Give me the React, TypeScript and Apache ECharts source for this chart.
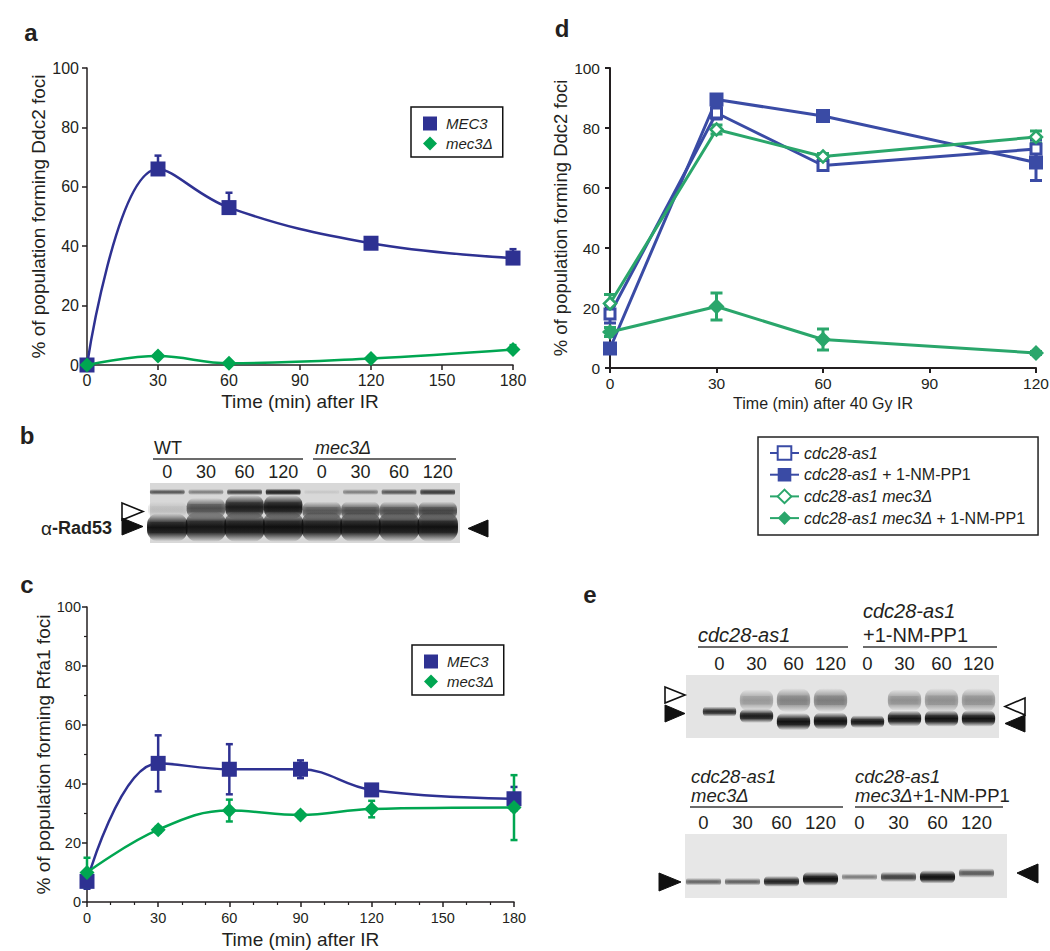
import React, { useEffect, useRef } from 'react';
import * as echarts from 'echarts';

const FONT = '"Liberation Sans", Arial, Helvetica, sans-serif';
const INK = '#231f20';
const BLUE = '#2e3192';
const GREEN = '#00a651';
const D_BLUE = '#3a4ba5';
const D_GREEN = '#2aa66b';

// ---------- Panel a : Ddc2 foci ----------
const timesA = [0, 30, 60, 120, 180];
const mec3A = [0, 66, 53, 41, 36];
const mec3ErrA = [0, 4.5, 5, 2, 3];
const mec3dA = [0, 3, 0.6, 2.2, 5.2];
const mec3dErrA = [0, 1, 0.5, 0.8, 1.5];

// ---------- Panel c : Rfa1 foci ----------
const timesC = [0, 30, 60, 90, 120, 180];
const mec3C = [7, 47, 45, 45, 38, 35];
const mec3ErrC = [2.5, 9.5, 8.5, 3, 1.5, 4];
const mec3dC = [10, 24.5, 31, 29.5, 31.5, 32];
const mec3dErrC = [5, 1, 3.7, 1, 2.8, 11];

// ---------- Panel d : Ddc2 foci after 40 Gy ----------
const timesD = [0, 30, 60, 120];
const asD = [18, 85, 67.5, 73];
const asErrD = [3, 2, 1.5, 3];
const asNmD = [6.5, 89.5, 84, 68.5];
const asNmErrD = [1, 1.5, 1.5, 6];
const asMecD = [21.5, 79.5, 70.5, 77];
const asMecErrD = [3, 1.5, 1, 2];
const asMecNmD = [12, 20.5, 9.5, 5];
const asMecNmErrD = [1.5, 4.5, 3.5, 0.5];
const dNames = ['cdc28-as1', 'cdc28-as1 + 1-NM-PP1', 'cdc28-as1 mec3Δ', 'cdc28-as1 mec3Δ + 1-NM-PP1'];

// ---------- Blots ----------
const blotLanes = ['0', '30', '60', '120', '0', '30', '60', '120'];
// panel b (relative migration 0-100, band height, intensity)
const bTopY = [85, 85, 85, 85, 85, 85, 85, 85];
const bTopH = [10, 10, 11, 12, 9, 10, 11, 12];
const bTopI = [0.55, 0.35, 0.65, 0.85, 0.06, 0.35, 0.55, 0.7];
const bShiftY = [56, 58, 60, 60, 54, 54, 54, 54];
const bShiftH = [26, 34, 40, 40, 30, 30, 30, 30];
const bShiftI = [0.1, 0.6, 0.9, 0.95, 0.55, 0.6, 0.6, 0.65];
const bMainY = [26, 27, 27, 27, 27, 27, 27, 27];
const bMainH = [46, 50, 50, 50, 50, 50, 50, 50];
const bMainI = [0.97, 0.95, 0.98, 0.99, 0.96, 0.97, 0.97, 0.98];
// panel e top
const eTopMainY = [42, 35, 26, 27, 26, 31, 31, 31];
const eTopMainH = [16, 22, 27, 27, 20, 25, 26, 26];
const eTopMainI = [0.8, 0.9, 0.97, 0.97, 0.92, 0.94, 0.96, 0.96];
const eTopShiftY = [60, 60, 60, 60, 60, 60, 60, 60];
const eTopShiftH = [34, 34, 38, 38, 34, 34, 38, 38];
const eTopShiftI = [0, 0.28, 0.38, 0.4, 0, 0.32, 0.32, 0.32];
// panel e bottom
const eBotY = [25.5, 25.5, 26, 30, 33, 33, 33, 39];
const eBotH = [12, 12, 17, 22, 11, 16, 21, 15];
const eBotI = [0.5, 0.52, 0.85, 0.98, 0.4, 0.68, 0.97, 0.55];

const pairs = (xs: number[], ys: number[]) => xs.map((x, i) => [x, ys[i]]);

function errorBars(idx: number, xs: number[], vals: number[], errs: number[], color: string, oneSided: boolean, cap: number, lw: number) {
  return {
    type: 'custom',
    xAxisIndex: idx,
    yAxisIndex: idx,
    silent: true,
    z: 1,
    data: xs.map((x, i) => [x, oneSided ? vals[i] : vals[i] - errs[i], vals[i] + errs[i]]),
    encode: { x: 0, y: [1, 2] },
    renderItem: (_p: any, api: any) => {
      const x = api.value(0);
      const lo = api.coord([x, api.value(1)]);
      const hi = api.coord([x, api.value(2)]);
      const st = { stroke: color, lineWidth: lw };
      const children: any[] = [
        { type: 'line', shape: { x1: lo[0], y1: lo[1], x2: hi[0], y2: hi[1] }, style: st },
        { type: 'line', shape: { x1: hi[0] - cap, y1: hi[1], x2: hi[0] + cap, y2: hi[1] }, style: st },
      ];
      if (!oneSided) children.push({ type: 'line', shape: { x1: lo[0] - cap, y1: lo[1], x2: lo[0] + cap, y2: lo[1] }, style: st });
      return { type: 'group', children };
    },
  };
}

function bandSeries(idx: number, ys: number[], hs: number[], ints: number[], wf: number) {
  return {
    type: 'custom',
    xAxisIndex: idx,
    yAxisIndex: idx,
    silent: true,
    data: blotLanes.map((_, i) => [i, ys[i], hs[i], ints[i]]),
    encode: { x: 0, y: 1 },
    renderItem: (_p: any, api: any) => {
      const a = api.value(3);
      if (a <= 0) return null;
      const c = api.coord([api.value(0), api.value(1)]);
      const s = api.size([1, api.value(2)], [api.value(0), api.value(1)]);
      const w = s[0] * wf;
      const h = s[1];
      const col = (k: number) => `rgba(14,14,14,${(a * k).toFixed(3)})`;
      const grad = new echarts.graphic.LinearGradient(0, 0, 0, 1, [
        { offset: 0, color: col(0) },
        { offset: 0.3, color: col(0.75) },
        { offset: 0.5, color: col(1) },
        { offset: 0.7, color: col(0.85) },
        { offset: 1, color: col(0) },
      ]);
      const gradH = new echarts.graphic.LinearGradient(0, 0, 1, 0, [
        { offset: 0, color: col(0) },
        { offset: 0.12, color: col(0.35) },
        { offset: 0.88, color: col(0.35) },
        { offset: 1, color: col(0) },
      ]);
      return {
        type: 'group',
        children: [
          { type: 'rect', shape: { x: c[0] - w / 2, y: c[1] - h / 2, width: w, height: h, r: h / 2.5 }, style: { fill: grad } },
          { type: 'rect', shape: { x: c[0] - w / 2, y: c[1] - h * 0.2, width: w, height: h * 0.4 }, style: { fill: gradH } },
        ],
      };
    },
  };
}

const axisBase = (fontSize: number, margin: number, lw: number) => ({
  axisLine: { show: true, lineStyle: { color: INK, width: lw } },
  axisTick: { show: true, length: 5, lineStyle: { color: INK, width: lw } },
  axisLabel: { fontSize, margin, color: INK, fontFamily: FONT },
  splitLine: { show: false },
  nameLocation: 'middle',
});

const blotX = (idx: number, fontSize: number, margin: number) => ({
  type: 'category',
  gridIndex: idx,
  position: 'top',
  data: blotLanes,
  boundaryGap: true,
  axisLine: { show: false },
  axisTick: { show: false },
  axisLabel: { interval: 0, fontSize, margin, color: INK, fontFamily: FONT },
  splitLine: { show: false },
});
const blotY = (idx: number) => ({ type: 'value', gridIndex: idx, min: 0, max: 100, show: false });

const txt = (text: string, x: number, y: number, o: any = {}) => ({
  type: 'text',
  z: 10,
  style: {
    text, x, y,
    fontFamily: FONT,
    fontSize: o.fontSize || 18,
    fontWeight: o.fontWeight || 'normal',
    fontStyle: o.fontStyle || 'normal',
    fill: INK,
    align: o.align || 'left',
    verticalAlign: 'middle',
    textAlign: o.align || 'left',
    textVerticalAlign: 'middle',
    rich: o.rich,
  },
});
const hline = (x1: number, x2: number, y: number) => ({
  type: 'line', z: 10, shape: { x1, y1: y, x2, y2: y }, style: { stroke: '#3a3a3a', lineWidth: 1.5 },
});
const tri = (pts: number[][], open: boolean) => ({
  type: 'polygon', z: 10, shape: { points: pts },
  style: { fill: open ? '#fff' : '#111', stroke: '#111', lineWidth: open ? 1.6 : 1 },
});
const richI = { i: { fontStyle: 'italic', fontFamily: FONT, fontSize: 20, fill: INK, color: INK } };
const richI2 = { i: { fontStyle: 'italic', fontFamily: FONT, fontSize: 18.5, fill: INK, color: INK } };

function buildOption(): any {
  const legendAC = (left: number, top: number) => ({
    left, top, orient: 'vertical', padding: [9, 10, 6, 12], itemGap: 5, itemWidth: 14, itemHeight: 14,
    borderColor: '#111', borderWidth: 1.5, selectedMode: false,
    data: [{ name: 'MEC3', icon: 'rect' }, { name: 'mec3Δ', icon: 'diamond' }],
    textStyle: { fontFamily: FONT, fontSize: 15, fontStyle: 'italic', color: INK, padding: [0, 0, 0, 4] },
  });

  return {
    animation: false,
    backgroundColor: '#fff',
    grid: [
      { left: 87, top: 68, width: 426, height: 297, outerBoundsMode: 'none' },
      { left: 87, top: 607, width: 427, height: 295, outerBoundsMode: 'none' },
      { left: 610, top: 68, width: 426, height: 300, outerBoundsMode: 'none' },
      { left: 148, top: 483, width: 309, height: 60, outerBoundsMode: 'none' },
      { left: 701, top: 675, width: 296, height: 63, outerBoundsMode: 'none' },
      { left: 684, top: 834, width: 312, height: 64, outerBoundsMode: 'none' },
    ],
    xAxis: [
      { ...axisBase(16, 7, 1.5), type: 'value', gridIndex: 0, min: 0, max: 180, interval: 30,
        name: 'Time (min) after IR', nameGap: 27, nameTextStyle: { fontSize: 19, fontFamily: FONT, color: INK } },
      { ...axisBase(14.5, 8, 1.5), type: 'value', gridIndex: 1, min: 0, max: 180, interval: 30,
        minorTick: { show: true, splitNumber: 3, length: 3, lineStyle: { color: INK, width: 1.2 } },
        name: 'Time (min) after IR', nameGap: 28, nameTextStyle: { fontSize: 19, fontFamily: FONT, color: INK } },
      { ...axisBase(15.5, 7, 2), type: 'value', gridIndex: 2, min: 0, max: 120, interval: 30,
        name: 'Time (min) after 40 Gy IR', nameGap: 27, nameTextStyle: { fontSize: 16, fontFamily: FONT, color: INK } },
      blotX(3, 18, 2),
      blotX(4, 18.5, 2),
      blotX(5, 18.5, 2),
    ],
    yAxis: [
      { ...axisBase(16, 8, 1.5), type: 'value', gridIndex: 0, min: 0, max: 100, interval: 20,
        name: '% of population forming Ddc2 foci', nameGap: 27, nameTextStyle: { fontSize: 19, fontFamily: FONT, color: INK } },
      { ...axisBase(14.5, 6, 1.5), type: 'value', gridIndex: 1, min: 0, max: 100, interval: 20,
        minorTick: { show: true, splitNumber: 2, length: 3, lineStyle: { color: INK, width: 1.2 } },
        name: '% of population forming Rfa1 foci', nameGap: 26, nameTextStyle: { fontSize: 19, fontFamily: FONT, color: INK } },
      { ...axisBase(15.5, 10, 2), type: 'value', gridIndex: 2, min: 0, max: 100, interval: 20,
        name: '% of population forming Ddc2 foci', nameGap: 34, nameTextStyle: { fontSize: 18.5, fontFamily: FONT, color: INK } },
      blotY(3), blotY(4), blotY(5),
    ],
    legend: [
      legendAC(411, 107),
      legendAC(412, 645),
      {
        left: 758, top: 437, orient: 'vertical', padding: [8, 13, 9, 11], itemGap: 5.7, itemWidth: 29, itemHeight: 17,
        borderColor: '#222', borderWidth: 1.5, selectedMode: false,
        data: dNames,
        formatter: (name: string) => {
          const parts = name.split(' + ');
          return '{i|' + parts[0] + '}' + (parts[1] ? ' + ' + parts[1] : '');
        },
        textStyle: {
          fontFamily: FONT, fontSize: 16, color: INK,
          rich: { i: { fontStyle: 'italic', fontFamily: FONT, fontSize: 16, color: INK } },
        },
      },
    ],
    graphic: [
      // blot backgrounds
      { type: 'rect', z: -1, shape: { x: 150, y: 483, width: 310, height: 60 }, style: { fill: '#d8d8d8' } },
      { type: 'rect', z: -1, shape: { x: 686, y: 675, width: 313, height: 63 }, style: { fill: '#e4e4e4' } },
      { type: 'rect', z: -1, shape: { x: 685, y: 834, width: 322, height: 64 }, style: { fill: '#e7e7e7' } },
      // panel letters
      txt('a', 31, 32, { fontSize: 24, fontWeight: 'bold', align: 'center' }),
      txt('d', 562, 28, { fontSize: 24, fontWeight: 'bold', align: 'center' }),
      txt('b', 27, 435, { fontSize: 24, fontWeight: 'bold', align: 'center' }),
      txt('c', 27, 584, { fontSize: 24, fontWeight: 'bold', align: 'center' }),
      txt('e', 590, 594, { fontSize: 24, fontWeight: 'bold', align: 'center' }),
      // panel b labels
      txt('WT', 154, 448, { fontSize: 18 }),
      hline(153, 303, 459),
      txt('mec3Δ', 315, 448, { fontSize: 18, fontStyle: 'italic' }),
      hline(313, 456, 459),
      txt('{a|α}{b|-Rad53}', 112, 528, {
        align: 'right',
        rich: {
          a: { fontFamily: FONT, fontSize: 19, fontWeight: 'normal', fill: INK, color: INK },
          b: { fontFamily: FONT, fontSize: 18, fontWeight: 'bold', fill: INK, color: INK },
        },
      }),
      tri([[122, 503], [143, 511.5], [122, 520]], true),
      tri([[122, 518], [143, 526.5], [122, 535]], false),
      tri([[488, 520], [468, 528.5], [488, 537]], false),
      // panel e top labels
      txt('{i|cdc28-as1}', 698, 635, { fontSize: 20, rich: richI }),
      hline(698, 848, 647),
      txt('{i|cdc28-as1}', 863, 611, { fontSize: 20, rich: richI }),
      txt('+1-NM-PP1', 863, 635, { fontSize: 20 }),
      hline(863, 997, 647),
      tri([[665, 687], [685, 695], [665, 703]], true),
      tri([[665, 705], [685, 713.5], [665, 722]], false),
      tri([[1025, 698], [1005, 706.5], [1025, 715]], true),
      tri([[1025, 715], [1005, 723.5], [1025, 732]], false),
      // panel e bottom labels
      txt('{i|cdc28-as1}', 691, 776, { fontSize: 18.5, rich: richI2 }),
      txt('{i|mec3Δ}', 691, 795.5, { fontSize: 18.5, rich: richI2 }),
      hline(690, 843, 807),
      txt('{i|cdc28-as1}', 855, 776, { fontSize: 18.5, rich: richI2 }),
      txt('{i|mec3Δ}+1-NM-PP1', 855, 795.5, { fontSize: 18.5, rich: richI2 }),
      hline(855, 1003, 807),
      tri([[659, 873], [681, 882], [659, 891]], false),
      tri([[1038, 864], [1017, 873], [1038, 883]], false),
    ],
    series: [
      // ---- panel a
      errorBars(0, timesA, mec3A, mec3ErrA, BLUE, true, 3.5, 2.5),
      errorBars(0, timesA, mec3dA, mec3dErrA, GREEN, true, 3.5, 2.5),
      { name: 'MEC3', type: 'line', xAxisIndex: 0, yAxisIndex: 0, data: pairs(timesA, mec3A), smooth: 0.4, clip: false,
        symbol: 'rect', symbolSize: 15, color: BLUE, lineStyle: { color: BLUE, width: 2.5 }, itemStyle: { color: BLUE }, z: 3 },
      { name: 'mec3Δ', type: 'line', xAxisIndex: 0, yAxisIndex: 0, data: pairs(timesA, mec3dA), smooth: 0.4, clip: false,
        symbol: 'diamond', symbolSize: 15, color: GREEN, lineStyle: { color: GREEN, width: 2.5 }, itemStyle: { color: GREEN }, z: 4 },
      // ---- panel c
      errorBars(1, timesC, mec3C, mec3ErrC, BLUE, false, 3.5, 2.5),
      errorBars(1, timesC, mec3dC, mec3dErrC, GREEN, false, 3.5, 2.5),
      { name: 'MEC3', type: 'line', xAxisIndex: 1, yAxisIndex: 1, data: pairs(timesC, mec3C), smooth: 0.4, clip: false,
        symbol: 'rect', symbolSize: 15, color: BLUE, lineStyle: { color: BLUE, width: 2.5 }, itemStyle: { color: BLUE }, z: 3 },
      { name: 'mec3Δ', type: 'line', xAxisIndex: 1, yAxisIndex: 1, data: pairs(timesC, mec3dC), smooth: 0.4, clip: false,
        symbol: 'diamond', symbolSize: 15, color: GREEN, lineStyle: { color: GREEN, width: 2.5 }, itemStyle: { color: GREEN }, z: 4 },
      // ---- panel d
      errorBars(2, timesD, asD, asErrD, D_BLUE, false, 6, 3),
      errorBars(2, timesD, asNmD, asNmErrD, D_BLUE, false, 6, 3),
      errorBars(2, timesD, asMecD, asMecErrD, D_GREEN, false, 6, 3),
      errorBars(2, timesD, asMecNmD, asMecNmErrD, D_GREEN, false, 6, 3),
      { name: dNames[0], type: 'line', xAxisIndex: 2, yAxisIndex: 2, data: pairs(timesD, asD), clip: false,
        symbol: 'rect', symbolSize: 10, color: D_BLUE, lineStyle: { color: D_BLUE, width: 3 },
        itemStyle: { color: '#fff', borderColor: D_BLUE, borderWidth: 3 }, z: 3 },
      { name: dNames[1], type: 'line', xAxisIndex: 2, yAxisIndex: 2, data: pairs(timesD, asNmD), clip: false,
        symbol: 'rect', symbolSize: 14, color: D_BLUE, lineStyle: { color: D_BLUE, width: 3 },
        itemStyle: { color: D_BLUE }, z: 3 },
      { name: dNames[2], type: 'line', xAxisIndex: 2, yAxisIndex: 2, data: pairs(timesD, asMecD), clip: false,
        symbol: 'diamond', symbolSize: 12, color: D_GREEN, lineStyle: { color: D_GREEN, width: 3 },
        itemStyle: { color: '#fff', borderColor: D_GREEN, borderWidth: 2.5 }, z: 4 },
      { name: dNames[3], type: 'line', xAxisIndex: 2, yAxisIndex: 2, data: pairs(timesD, asMecNmD), clip: false,
        symbol: 'diamond', symbolSize: 16, color: D_GREEN, lineStyle: { color: D_GREEN, width: 3 },
        itemStyle: { color: D_GREEN }, z: 4 },
      // ---- blots
      bandSeries(3, bTopY, bTopH, bTopI, 0.9),
      bandSeries(3, bShiftY, bShiftH, bShiftI, 1.0),
      bandSeries(3, bMainY, bMainH, bMainI, 1.05),
      bandSeries(4, eTopShiftY, eTopShiftH, eTopShiftI, 0.9),
      bandSeries(4, eTopMainY, eTopMainH, eTopMainI, 0.9),
      bandSeries(5, eBotY, eBotH, eBotI, 0.9),
    ],
  };
}

export default function App() {
  const ref = useRef<HTMLDivElement>(null);
  useEffect(() => {
    document.body.style.margin = '0';
    const chart = echarts.init(ref.current as HTMLDivElement, undefined, { renderer: 'svg' });
    chart.setOption(buildOption());
    return () => chart.dispose();
  }, []);
  return <div ref={ref} style={{ width: 1050, height: 951, background: '#fff' }} />;
}
